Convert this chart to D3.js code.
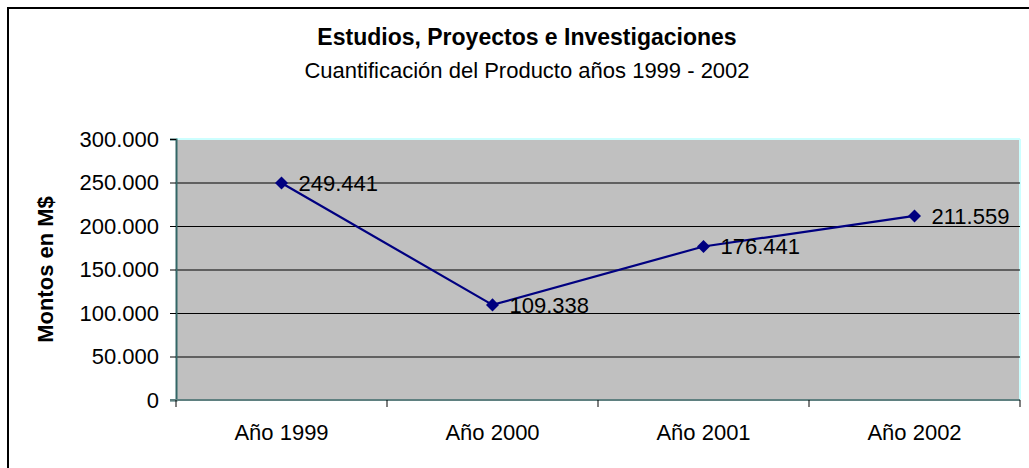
<!DOCTYPE html>
<html><head><meta charset="utf-8">
<script src="https://cdn.jsdelivr.net/npm/d3@7"></script>
<style>
html,body{margin:0;padding:0;background:#fff;}
text{font-family:Arial,"Liberation Sans",sans-serif;fill:#000;}
</style></head>
<body>
<script>
const categories = ["Año 1999","Año 2000","Año 2001","Año 2002"];
const values = [249441,109338,176441,211559];
const yTicks = [0,50000,100000,150000,200000,250000,300000];
const title = "Estudios, Proyectos e Investigaciones";
const subtitle = "Cuantificación del Producto años 1999 - 2002";
const yTitle = "Montos en M$";

const W = 1029, H = 468;
const m = {left:176, right:1020, top:139, bottom:400};
const fmt = v => d3.format(",")(v).replace(/,/g,".");

const svg = d3.select("body").append("svg").attr("width",W).attr("height",H);
svg.append("rect").attr("x",0).attr("y",0).attr("width",W).attr("height",H).attr("fill","#fff");
svg.append("rect").attr("x",8).attr("y",8).attr("width",1040).attr("height",480)
  .attr("fill","none").attr("stroke","#000").attr("stroke-width",2);

const x = d3.scaleBand().domain(categories).range([m.left,m.right]).paddingInner(0).paddingOuter(0);
const y = d3.scaleLinear().domain([0,300000]).range([m.bottom,m.top]);

// plot area
svg.append("rect").attr("x",m.left).attr("y",m.top).attr("width",m.right-m.left).attr("height",m.bottom-m.top)
  .attr("fill","#C0C0C0");
svg.append("line").attr("x1",m.left).attr("x2",m.right).attr("y1",m.top).attr("y2",m.top).attr("stroke","#CCFFFF").attr("stroke-width",2);
svg.append("line").attr("x1",m.right).attr("x2",m.right).attr("y1",m.top).attr("y2",m.bottom).attr("stroke","#CCFFFF").attr("stroke-width",2);

// gridlines
svg.append("g").selectAll("line").data(yTicks.filter(t=>t>0 && t<300000)).join("line")
  .attr("x1",m.left).attr("x2",m.right).attr("y1",d=>y(d)+0.5).attr("y2",d=>y(d)+0.5)
  .attr("stroke","#000").attr("stroke-width",1);

// y axis
const ya = svg.append("g").attr("transform",`translate(${m.left},0)`)
  .call(d3.axisLeft(y).tickValues(yTicks).tickFormat(fmt).tickSize(6).tickPadding(11));
ya.select(".domain").attr("stroke","#336666").attr("stroke-width",2);
ya.selectAll(".tick line").attr("stroke","#000");
ya.selectAll("text").attr("font-size",22).attr("font-family","Arial, Liberation Sans, sans-serif").attr("fill","#000");

// x axis
const xa = svg.append("g").attr("transform",`translate(0,${m.bottom})`)
  .call(d3.axisBottom(x).tickSize(0).tickPadding(24));
xa.select(".domain").remove();
xa.selectAll("text").attr("font-size",22).attr("font-family","Arial, Liberation Sans, sans-serif").attr("fill","#000");
svg.append("line").attr("x1",m.left-6).attr("x2",m.right).attr("y1",m.bottom).attr("y2",m.bottom)
  .attr("stroke","#5F8080").attr("stroke-width",2);
const bounds = categories.map(c=>x(c)).concat([m.right]);
svg.append("g").selectAll("line").data(bounds).join("line")
  .attr("x1",d=>d).attr("x2",d=>d).attr("y1",m.bottom).attr("y2",m.bottom+7)
  .attr("stroke","#000").attr("stroke-width",1);

// line
const cx = c => x(c)+x.bandwidth()/2;
const data = categories.map((c,i)=>({c,v:values[i]}));
svg.append("path").datum(data)
  .attr("d",d3.line().x(d=>cx(d.c)).y(d=>y(d.v)))
  .attr("fill","none").attr("stroke","#000080").attr("stroke-width",2.2);
svg.append("g").selectAll("path").data(data).join("path")
  .attr("d",d3.symbol().type(d3.symbolSquare).size(85))
  .attr("transform",d=>`translate(${cx(d.c)},${y(d.v)}) rotate(45)`)
  .attr("fill","#000080");
svg.append("g").selectAll("text").data(data).join("text")
  .attr("x",d=>cx(d.c)+17).attr("y",d=>y(d.v)+8)
  .attr("font-size",22).text(d=>fmt(d.v));

// titles
svg.append("text").attr("x",527).attr("y",45).attr("text-anchor","middle")
  .attr("font-size",23).attr("font-weight","bold").text(title);
svg.append("text").attr("x",527).attr("y",78).attr("text-anchor","middle")
  .attr("font-size",22).text(subtitle);
svg.append("text").attr("transform",`translate(53,${(m.top+m.bottom)/2}) rotate(-90)`)
  .attr("text-anchor","middle").attr("font-size",22).attr("font-weight","bold").text(yTitle);
</script>
</body></html>
